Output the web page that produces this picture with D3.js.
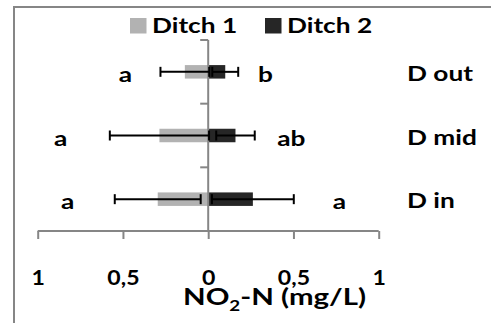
<!DOCTYPE html>
<html><head><meta charset="utf-8">
<script src="https://cdn.jsdelivr.net/npm/d3@7"></script>
<style>
html,body{margin:0;padding:0;background:#fff;}
svg{display:block;}
text{font-family:Lato, "Open Sans", sans-serif;font-weight:bold;fill:#000;}
</style></head>
<body>
<script>
const categories = ["D out", "D mid", "D in"];
const ditch1 = [0.137, 0.286, 0.296];
const ditch1Err = [0.143, 0.291, 0.252];
const ditch2 = [0.100, 0.160, 0.262];
const ditch2Err = [0.076, 0.113, 0.240];
const letters1 = ["a", "a", "a"];
const letters2 = ["b", "ab", "a"];
const tickValues = [-1, -0.5, 0, 0.5, 1];
const seriesNames = ["Ditch 1", "Ditch 2"];

// layout (label anchor positions in axis units)
const letter1X = [-0.485, -0.866, -0.825];
const letter2X = [0.336, 0.488, 0.77];

const W = 491, H = 323;
const colors = ["#b2b2b2", "#262626"];
const axisColor = "#868686";
const K = 1.25; // horizontal stretch of text

const svg = d3.select("body").append("svg").attr("width", W).attr("height", H);

function label(tx, ty, str, size, anchor, k) {
  return svg.append("text")
    .attr("transform", `translate(${tx},${ty}) scale(${k || K},1)`)
    .attr("text-anchor", anchor || "start")
    .style("font-size", size + "px").text(str);
}

// frame
svg.append("path").attr("d", `M14,${H} L14,7 L${W},7`).attr("fill", "none")
  .attr("stroke", axisColor).attr("stroke-width", 2);

const x = d3.scaleLinear().domain([-1, 1]).range([37.7, 378.7]);
const y = d3.scaleBand().domain(categories).range([40, 231]);
const barH = 13.5;

const fmt = v => String(Math.abs(v)).replace(".", ",");

// bars
categories.forEach((c, i) => {
  const cy = y(c) + y.bandwidth() / 2;
  svg.append("rect").attr("x", x(-ditch1[i])).attr("y", cy - barH / 2)
    .attr("width", x(0) - x(-ditch1[i])).attr("height", barH).attr("fill", colors[0]);
  svg.append("rect").attr("x", x(0)).attr("y", cy - barH / 2)
    .attr("width", x(ditch2[i]) - x(0)).attr("height", barH).attr("fill", colors[1]);
});

// axes
const xAxis = d3.axisBottom(x).tickValues(tickValues).tickSize(8).tickFormat(fmt);
const gx = svg.append("g").attr("transform", "translate(0,231)").call(xAxis);
gx.select(".domain").attr("stroke", axisColor).attr("stroke-width", 2)
  .attr("d", `M${x(-1)},0H${x(1)}`);
gx.selectAll(".tick line").attr("stroke", axisColor).attr("stroke-width", 2);
gx.selectAll(".tick text").attr("y", 0).attr("dy", null)
  .attr("transform", "translate(0,54) scale(1.1,1)")
  .style("font-size", "21px").attr("fill", "#000");

const yLine = svg.append("g");
yLine.append("line").attr("x1", x(0)).attr("x2", x(0)).attr("y1", 40).attr("y2", 231)
  .attr("stroke", axisColor).attr("stroke-width", 2);
const yTicks = categories.map(c => y(c)).concat([231]);
yLine.selectAll("line.t").data(yTicks).enter().append("line").attr("class", "t")
  .attr("x1", x(0) - 8).attr("x2", x(0)).attr("y1", d => d).attr("y2", d => d)
  .attr("stroke", axisColor).attr("stroke-width", 2);

// error bars
function errBar(cy, v, e) {
  const g = svg.append("g").attr("stroke", "#000").attr("stroke-width", 2);
  g.append("line").attr("x1", x(v - e)).attr("x2", x(v + e)).attr("y1", cy).attr("y2", cy);
  [v - e, v + e].forEach(p => g.append("line").attr("x1", x(p)).attr("x2", x(p))
    .attr("y1", cy - 5).attr("y2", cy + 5));
}
categories.forEach((c, i) => {
  const cy = y(c) + y.bandwidth() / 2;
  errBar(cy, -ditch1[i], ditch1Err[i]);
  errBar(cy, ditch2[i], ditch2Err[i]);
});

// letters and category labels
categories.forEach((c, i) => {
  const cy = y(c) + y.bandwidth() / 2;
  label(x(letter1X[i]), cy + 10, letters1[i], 21, "middle");
  label(x(letter2X[i]), cy + 10, letters2[i], 21, "middle");
  label(407, cy + 9, c, 21, "start");
});

// legend
const legX = [130, 265];
seriesNames.forEach((s, i) => {
  svg.append("rect").attr("x", legX[i]).attr("y", 18).attr("width", 16.5).attr("height", 15.5)
    .attr("fill", colors[i]);
  label(legX[i] + 22, 33.3, s, 21, "start");
});

// axis title
const t = svg.append("text").attr("transform", `translate(183,305) scale(${K},1)`)
  .style("font-size", "23.5px");
t.append("tspan").text("NO");
t.append("tspan").attr("dy", 6).style("font-size", "15px").text("2");
t.append("tspan").attr("dy", -6).text("-N (mg/L)");
</script>
</body></html>
